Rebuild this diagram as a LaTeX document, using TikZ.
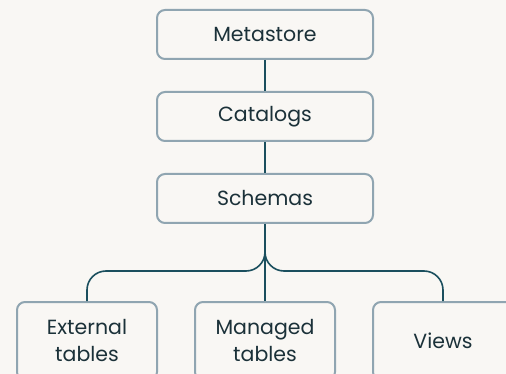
\documentclass[tikz,border=0pt]{standalone}
\usepackage{fontspec}
\setmainfont{Poppins}
\definecolor{bgc}{HTML}{F9F7F4}
\definecolor{boxline}{HTML}{90A5B1}
\definecolor{txt}{HTML}{1B3139}
\definecolor{conn}{HTML}{1B4F5E}
\begin{document}
\begin{tikzpicture}[x=1pt,y=-1pt,
  box/.style={draw=boxline, line width=2pt, fill=bgc, rounded corners=8pt,
    minimum width=216pt, minimum height=49pt, text=txt, font=\fontsize{20.5}{27}\selectfont, inner sep=0pt},
  leaf/.style={box, minimum width=140pt, minimum height=78pt, align=center},
  connline/.style={draw=conn, line width=1.6pt}]
\useasboundingbox (0,0) rectangle (506,374);
\clip (0,0) rectangle (506,374);
\fill[bgc] (0,0) rectangle (506,374);
\node[box] (metastore) at (265,34.5) {\raisebox{-1pt}{Metastore}};
\node[box] (catalogs) at (265,116.5) {\raisebox{-1pt}{Catalogs}};
\node[box] (schemas) at (265,198.5) {\raisebox{-1pt}{Schemas}};
\node[leaf] (ext) at (87,341) {External\\tables};
\node[leaf] (man) at (265,341) {Managed\\tables};
\node[leaf] (views) at (443,341) {Views};
\coordinate (fork) at (265,250);
\coordinate (hline) at (265,271);
\draw[connline] (metastore.south) -- (catalogs.north);
\draw[connline] (catalogs.south) -- (schemas.north);
\draw[connline] (schemas.south) -- (man.north);
\draw[connline, rounded corners=19pt] (fork) -- (hline) -| (ext.north);
\draw[connline, rounded corners=19pt] (fork) -- (hline) -| (views.north);
\end{tikzpicture}
\end{document}
